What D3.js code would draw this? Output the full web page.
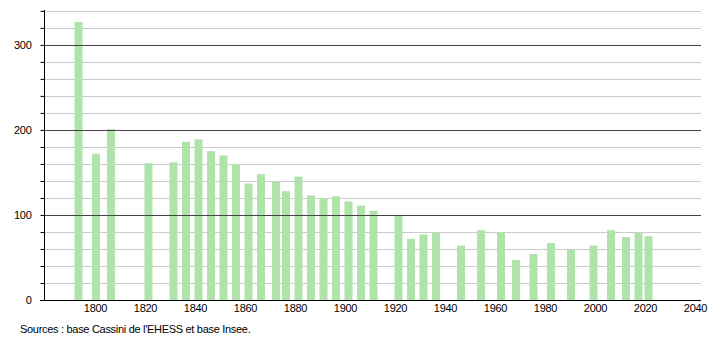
<!DOCTYPE html>
<html>
<head>
<meta charset="utf-8">
<script src="https://cdn.jsdelivr.net/npm/d3@7"></script>
<style>
body { margin: 0; background: #fff; }
text { font-family: "Liberation Sans", Arial, sans-serif; letter-spacing: -0.3px; }
</style>
</head>
<body>
<script>
var years = [1793, 1800, 1806, 1821, 1831, 1836, 1841, 1846, 1851, 1856,
    1861, 1866, 1872, 1876, 1881, 1886, 1891, 1896, 1901, 1906,
    1911, 1921, 1926, 1931, 1936, 1946, 1954, 1962, 1968, 1975,
    1982, 1990, 1999, 2006, 2012, 2017, 2021];
var population = [327, 172, 201, 161, 162, 186, 189, 175, 170, 160,
    137, 148, 139, 128, 145, 123, 120, 122, 116, 111,
    105, 99, 72, 77, 79, 64, 82, 80, 47, 54,
    67, 59, 64, 82, 74, 79, 75];
var xTicks = [1800, 1820, 1840, 1860, 1880, 1900, 1920, 1940, 1960, 1980, 2000, 2020, 2040];
var yMajor = [0, 100, 200, 300];
var source = "Sources : base Cassini de l'EHESS et base Insee.";

var svg = d3.select('body')
    .append("svg")
    .attr('width', 710)
    .attr('height', 340);

var mLeft = 44, mRight = 701, mTop = 10, mBottom = 300;

var x = d3.scaleLinear()
    .domain([1779.6, 2042.4])
    .range([mLeft, mRight]);

var y = d3.scaleLinear()
    .domain([0, 341])
    .range([mBottom, mTop]);

// minor grid, behind the bars
var minor = d3.range(20, 341, 20).filter(function(v) { return v % 100 != 0; });
svg.selectAll('.minor')
    .data(minor)
    .enter().append('line')
    .attr('x1', mLeft).attr('x2', mRight)
    .attr('y1', function(d) { return Math.round(y(d)) + 0.5; })
    .attr('y2', function(d) { return Math.round(y(d)) + 0.5; })
    .style('stroke', '#cccccc')
    .style('stroke-width', 1);

svg.selectAll('.bar')
    .data(years)
    .enter().append('rect')
    .attr('x', function(d) { return x(d) - 3; })
    .attr('width', 8)
    .attr('y', function(d, i) { return y(population[i]); })
    .attr('height', function(d, i) { return mBottom - y(population[i]); })
    .style('fill', '#afe3aa');

// major lines, over the bars
svg.selectAll('.major')
    .data(yMajor.slice(1))
    .enter().append('line')
    .attr('x1', mLeft).attr('x2', mRight)
    .attr('y1', function(d) { return Math.round(y(d)) + 0.5; })
    .attr('y2', function(d) { return Math.round(y(d)) + 0.5; })
    .style('stroke', '#444')
    .style('stroke-width', 1);

var yAxis = svg.append('g')
    .attr('transform', 'translate(' + (mLeft + 0.5) + ',0)')
    .call(d3.axisLeft(y)
        .tickValues(d3.range(0, 341, 20))
        .tickSize(4)
        .tickFormat(function(d) { return yMajor.indexOf(d) >= 0 ? d : ''; }));
yAxis.select('.domain').attr('d', 'M0,' + mTop + 'V' + mBottom).style('stroke', '#000');
yAxis.selectAll('.tick line').style('stroke', '#000');
yAxis.selectAll('.tick text')
    .attr('x', -13)
    .style('font-size', '11px')
    .style('fill', '#000');

var xAxis = svg.append('g')
    .attr('transform', 'translate(0,' + (mBottom + 0.5) + ')')
    .call(d3.axisBottom(x).tickValues(xTicks).tickSize(0).tickFormat(d3.format('d')));
xAxis.select('.domain').attr('d', 'M' + (mLeft - 4) + ',0H' + mRight).style('stroke', '#000');
xAxis.selectAll('.tick text')
    .attr('y', 4)
    .style('font-size', '11px')
    .style('fill', '#000');

svg.append('text')
    .attr('x', 20)
    .attr('y', 333)
    .style('font-size', '11px')
    .text(source);
</script>
</body>
</html>
